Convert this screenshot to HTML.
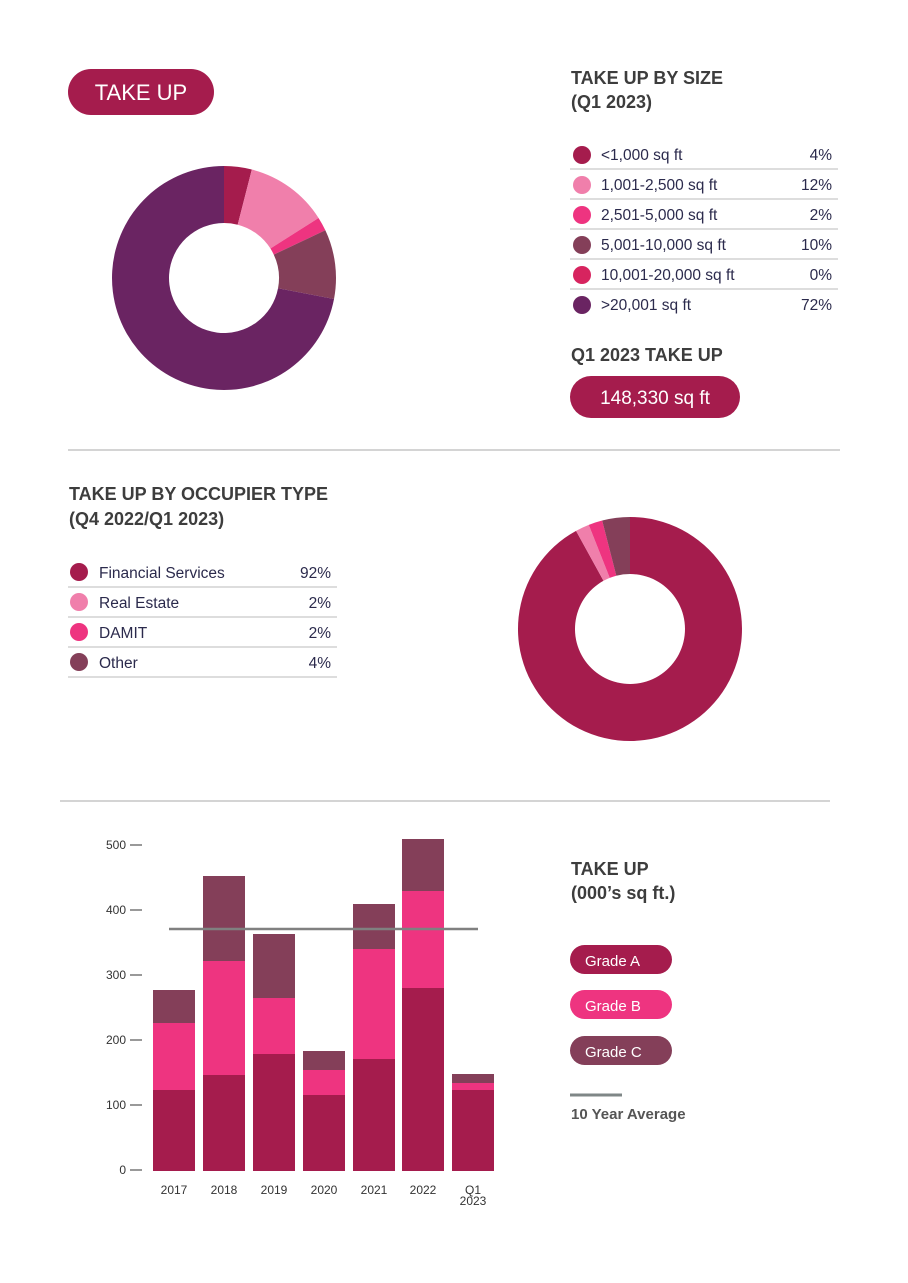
<!DOCTYPE html>
<html><head><meta charset="utf-8"><style>
body{margin:0;background:#fff;}
svg{display:block;font-family:"Liberation Sans",Arial,sans-serif;}
.h{font-weight:bold;fill:#3d3d3d;font-size:18px;}
.t{fill:#2b2a4c;font-size:15.5px;}
.ax{fill:#333;font-size:12px;}
</style></head><body>
<svg width="908" height="1283" viewBox="0 0 908 1283">
<rect x="68" y="69" width="146" height="46" rx="23" fill="#a51c4d"/>
<text x="141" y="100" fill="#fff" font-size="22" text-anchor="middle">TAKE UP</text>

<path d="M224 166 A112 112 0 0 1 251.85 169.52 L237.68 224.73 A55 55 0 0 0 224 223 Z" fill="#a51c4d"/>
<path d="M251.85 169.52 A112 112 0 0 1 318.56 217.99 L270.44 248.53 A55 55 0 0 0 237.68 224.73 Z" fill="#f07fab"/>
<path d="M318.56 217.99 A112 112 0 0 1 325.34 230.31 L273.76 254.58 A55 55 0 0 0 270.44 248.53 Z" fill="#ee3480"/>
<path d="M325.34 230.31 A112 112 0 0 1 334.02 298.99 L278.03 288.31 A55 55 0 0 0 273.76 254.58 Z" fill="#843f59"/>
<path d="M334.02 298.99 A112 112 0 1 1 224 166 L224 223 A55 55 0 1 0 278.03 288.31 Z" fill="#6a2462"/>

<text class="h" x="571" y="84">TAKE UP BY SIZE</text>
<text class="h" x="571" y="108">(Q1 2023)</text>
<g class="t">
<circle cx="582" cy="155" r="9" fill="#a51c4d"/><text x="601" y="160">&lt;1,000 sq ft</text><text x="832" y="160" text-anchor="end">4%</text>
<line x1="570" y1="169" x2="838" y2="169" stroke="#bbb"/>
<circle cx="582" cy="185" r="9" fill="#f07fab"/><text x="601" y="190">1,001-2,500 sq ft</text><text x="832" y="190" text-anchor="end">12%</text>
<line x1="570" y1="199" x2="838" y2="199" stroke="#bbb"/>
<circle cx="582" cy="215" r="9" fill="#ee3480"/><text x="601" y="220">2,501-5,000 sq ft</text><text x="832" y="220" text-anchor="end">2%</text>
<line x1="570" y1="229" x2="838" y2="229" stroke="#bbb"/>
<circle cx="582" cy="245" r="9" fill="#843f59"/><text x="601" y="250">5,001-10,000 sq ft</text><text x="832" y="250" text-anchor="end">10%</text>
<line x1="570" y1="259" x2="838" y2="259" stroke="#bbb"/>
<circle cx="582" cy="275" r="9" fill="#d7245f"/><text x="601" y="280">10,001-20,000 sq ft</text><text x="832" y="280" text-anchor="end">0%</text>
<line x1="570" y1="289" x2="838" y2="289" stroke="#bbb"/>
<circle cx="582" cy="305" r="9" fill="#6a2462"/><text x="601" y="310">&gt;20,001 sq ft</text><text x="832" y="310" text-anchor="end">72%</text>
</g>
<text class="h" x="571" y="361">Q1 2023 TAKE UP</text>
<rect x="570" y="376" width="170" height="42" rx="21" fill="#a51c4d"/>
<text x="655" y="404" fill="#fff" font-size="19" text-anchor="middle">148,330 sq ft</text>

<line x1="68" y1="450" x2="840" y2="450" stroke="#aaa"/>

<text class="h" x="69" y="500">TAKE UP BY OCCUPIER TYPE</text>
<text class="h" x="69" y="525">(Q4 2022/Q1 2023)</text>
<g class="t">
<circle cx="79" cy="572" r="9" fill="#a51c4d"/><text x="99" y="578">Financial Services</text><text x="331" y="578" text-anchor="end">92%</text>
<line x1="68" y1="587" x2="337" y2="587" stroke="#bbb"/>
<circle cx="79" cy="602" r="9" fill="#f07fab"/><text x="99" y="608">Real Estate</text><text x="331" y="608" text-anchor="end">2%</text>
<line x1="68" y1="617" x2="337" y2="617" stroke="#bbb"/>
<circle cx="79" cy="632" r="9" fill="#ee3480"/><text x="99" y="638">DAMIT</text><text x="331" y="638" text-anchor="end">2%</text>
<line x1="68" y1="647" x2="337" y2="647" stroke="#bbb"/>
<circle cx="79" cy="662" r="9" fill="#843f59"/><text x="99" y="668">Other</text><text x="331" y="668" text-anchor="end">4%</text>
<line x1="68" y1="677" x2="337" y2="677" stroke="#bbb"/>
</g>

<path d="M630 517 A112 112 0 1 1 576.04 530.85 L603.50 580.80 A55 55 0 1 0 630 574 Z" fill="#a51c4d"/>
<path d="M576.04 530.85 A112 112 0 0 1 588.77 524.86 L609.75 577.86 A55 55 0 0 0 603.50 580.80 Z" fill="#f07fab"/>
<path d="M588.77 524.86 A112 112 0 0 1 602.15 520.52 L616.32 575.73 A55 55 0 0 0 609.75 577.86 Z" fill="#ee3480"/>
<path d="M602.15 520.52 A112 112 0 0 1 630 517 L630 574 A55 55 0 0 0 616.32 575.73 Z" fill="#843f59"/>

<line x1="60" y1="801" x2="830" y2="801" stroke="#aaa"/>

<g class="ax" text-anchor="end">
<text x="126" y="1174">0</text><text x="126" y="1109">100</text><text x="126" y="1044">200</text><text x="126" y="979">300</text><text x="126" y="914">400</text><text x="126" y="849">500</text>
</g>
<g stroke="#333" stroke-width="1">
<line x1="130" y1="1170" x2="142" y2="1170"/><line x1="130" y1="1105" x2="142" y2="1105"/><line x1="130" y1="1040" x2="142" y2="1040"/><line x1="130" y1="975" x2="142" y2="975"/><line x1="130" y1="910" x2="142" y2="910"/><line x1="130" y1="845" x2="142" y2="845"/>
</g>
<g>
<rect x="153" y="990" width="42" height="33" fill="#843f59"/><rect x="153" y="1023" width="42" height="67" fill="#ee3480"/><rect x="153" y="1090" width="42" height="81" fill="#a51c4d"/>
<rect x="203" y="876" width="42" height="85" fill="#843f59"/><rect x="203" y="961" width="42" height="114" fill="#ee3480"/><rect x="203" y="1075" width="42" height="96" fill="#a51c4d"/>
<rect x="253" y="934" width="42" height="64" fill="#843f59"/><rect x="253" y="998" width="42" height="56" fill="#ee3480"/><rect x="253" y="1054" width="42" height="117" fill="#a51c4d"/>
<rect x="303" y="1051" width="42" height="19" fill="#843f59"/><rect x="303" y="1070" width="42" height="25" fill="#ee3480"/><rect x="303" y="1095" width="42" height="76" fill="#a51c4d"/>
<rect x="353" y="904" width="42" height="45" fill="#843f59"/><rect x="353" y="949" width="42" height="110" fill="#ee3480"/><rect x="353" y="1059" width="42" height="112" fill="#a51c4d"/>
<rect x="402" y="839" width="42" height="52" fill="#843f59"/><rect x="402" y="891" width="42" height="97" fill="#ee3480"/><rect x="402" y="988" width="42" height="183" fill="#a51c4d"/>
<rect x="452" y="1074" width="42" height="9" fill="#843f59"/><rect x="452" y="1083" width="42" height="7" fill="#ee3480"/><rect x="452" y="1090" width="42" height="81" fill="#a51c4d"/>
</g>
<line x1="169" y1="929" x2="478" y2="929" stroke="#808080" stroke-width="2.5"/>
<g class="ax" text-anchor="middle">
<text x="174" y="1194">2017</text><text x="224" y="1194">2018</text><text x="274" y="1194">2019</text><text x="324" y="1194">2020</text><text x="374" y="1194">2021</text><text x="423" y="1194">2022</text><text x="473" y="1194">Q1</text><text x="473" y="1205">2023</text>
</g>

<text class="h" x="571" y="875">TAKE UP</text>
<text class="h" x="571" y="899">(000’s sq ft.)</text>
<rect x="570" y="945" width="102" height="29" rx="14.5" fill="#a51c4d"/><text x="585" y="966" fill="#fff" font-size="15">Grade A</text>
<rect x="570" y="990" width="102" height="29" rx="14.5" fill="#ee3480"/><text x="585" y="1011" fill="#fff" font-size="15">Grade B</text>
<rect x="570" y="1036" width="102" height="29" rx="14.5" fill="#843f59"/><text x="585" y="1057" fill="#fff" font-size="15">Grade C</text>
<line x1="570" y1="1095" x2="622" y2="1095" stroke="#7f8787" stroke-width="3"/>
<text x="571" y="1119" font-size="15" font-weight="bold" fill="#555">10 Year Average</text>
</svg>
</body></html>
